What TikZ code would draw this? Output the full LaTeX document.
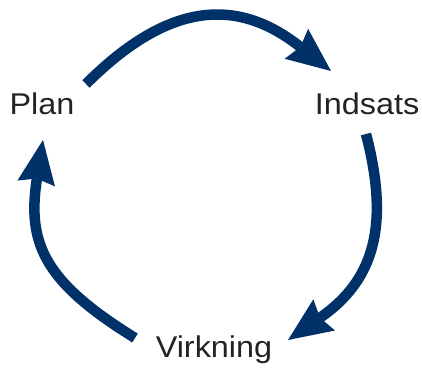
\documentclass[tikz,border=0pt]{standalone}
\usepackage{fontspec}
\setmainfont[FakeStretch=1.08]{Liberation Sans}
\usetikzlibrary{arrows.meta}
\definecolor{navy}{RGB}{0,50,105}
\definecolor{txt}{RGB}{35,35,35}
\begin{document}
\begin{tikzpicture}[x=1pt,y=-1pt,
  cyc/.style={line width=10.5pt, draw=navy,
    -{Stealth[length=44pt,width=38pt,inset=5pt,line width=0pt]}},
  lbl/.style={anchor=base, inner sep=0pt, text=txt,
    font=\fontsize{30}{36}\selectfont}]
\useasboundingbox (0,0) rectangle (422,369);
\node[lbl] (plan) at (42,114) {Plan};
\node[lbl] (indsats) at (367,114) {Indsats};
\node[lbl] (virkning) at (214,357) {Virkning};
\coordinate (s1) at (86,84);   \coordinate (t1) at (331,71);
\coordinate (s2) at (366,134); \coordinate (t2) at (288,340);
\coordinate (s3) at (135,338); \coordinate (t3) at (43,140);
\draw[cyc] (s1) .. controls (176.5,-6.5) and (244.5,3) .. (t1);
\draw[cyc] (s2) .. controls (390.4,227.7) and (373,281) .. (t2);
\draw[cyc] (s3) .. controls (44.6,282.1) and (26.7,243.9) .. (t3);
\end{tikzpicture}
\end{document}
